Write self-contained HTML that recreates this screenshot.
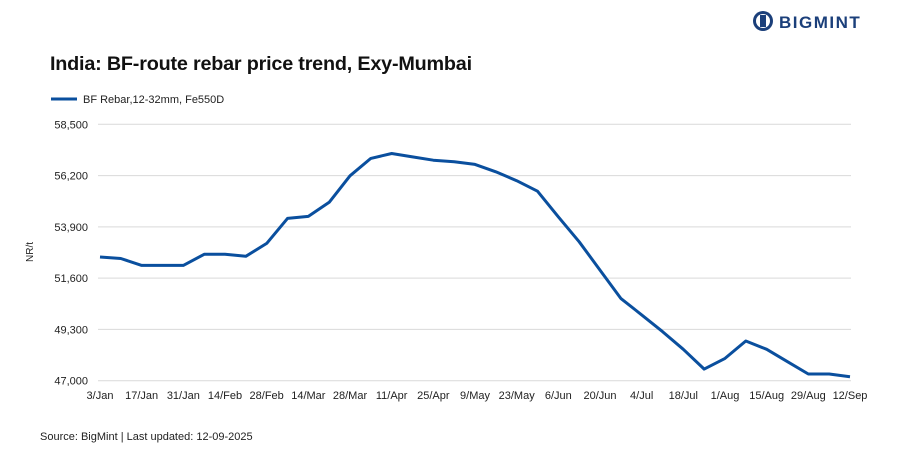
<!DOCTYPE html>
<html><head><meta charset="utf-8"><style>
body{margin:0;background:#fff;font-family:"Liberation Sans",sans-serif;}
svg text{font-family:"Liberation Sans",sans-serif;}
</style></head><body>
<svg id="chart" width="907" height="453" viewBox="0 0 907 453">
  <g>
    <circle cx="763" cy="21" r="10" fill="#1b3f7a"/>
    <circle cx="763" cy="21" r="7" fill="#fff"/>
    <rect x="760" y="15" width="6" height="12" fill="#1b3f7a"/>
    <text x="779" y="28" font-size="17" font-weight="bold" fill="#1b3f7a" letter-spacing="1.5">BIGMINT</text>
  </g>
  <text x="50" y="70" font-size="19.8" font-weight="bold" fill="#111" letter-spacing="-0.2">India: BF-route rebar price trend, Exy-Mumbai</text>
  <g>
    <line x1="51" y1="99" x2="77" y2="99" stroke="#0a4f9e" stroke-width="3"/>
    <text x="83" y="103" font-size="11" fill="#222">BF Rebar,12-32mm, Fe550D</text>
  </g>
  <text transform="translate(33,252) rotate(-90)" text-anchor="middle" font-size="10" fill="#222">NR/t</text>
  <g id="grid"></g><g id="yt"></g><g id="xt"></g>
  <path id="line" fill="none" stroke="#0a4f9e" stroke-width="3" stroke-linejoin="round"/>
  <text x="40" y="440" font-size="11" fill="#222">Source: BigMint | Last updated: 12-09-2025</text>
</svg>
<script>
const xLabels=["3/Jan","17/Jan","31/Jan","14/Feb","28/Feb","14/Mar","28/Mar","11/Apr","25/Apr","9/May","23/May","6/Jun","20/Jun","4/Jul","18/Jul","1/Aug","15/Aug","29/Aug","12/Sep"];
const yTicks=[47000,49300,51600,53900,56200,58500];
const prices=[52550,52480,52170,52170,52170,52670,52670,52580,53160,54280,54370,55000,56190,56970,57190,57040,56890,56820,56700,56370,55970,55500,54350,53230,51960,50690,49950,49200,48410,47520,48000,48780,48410,47850,47300,47300,47180];
const ns="http://www.w3.org/2000/svg";
const x0=100,x1=850,yMin=47000,yMax=58500,py0=380.7,py1=124.3;
const xs=i=>x0+(x1-x0)*i/(prices.length-1);
const ys=v=>py0-(v-yMin)/(yMax-yMin)*(py0-py1);
const g=document.getElementById('grid'),yt=document.getElementById('yt'),xt=document.getElementById('xt');
yTicks.forEach(v=>{
  const l=document.createElementNS(ns,'line');
  
  
  l.setAttribute('x1',98);l.setAttribute('x2',851);l.setAttribute('y1',ys(v));l.setAttribute('y2',ys(v));
  l.setAttribute('stroke','#d9d9d9');l.setAttribute('stroke-width','1');g.appendChild(l);
  const t=document.createElementNS(ns,'text');
  
  
  t.setAttribute('x',88);t.setAttribute('y',ys(v)+4);t.setAttribute('text-anchor','end');t.setAttribute('font-size','11');t.setAttribute('fill','#222');
  t.textContent=v.toLocaleString('en-US');yt.appendChild(t);
});
xLabels.forEach((s,i)=>{
  const t=document.createElementNS(ns,'text');
  
  
  t.setAttribute('x',xs(i*2));t.setAttribute('y',399);t.setAttribute('text-anchor','middle');t.setAttribute('font-size','11');t.setAttribute('fill','#222');
  t.textContent=s;xt.appendChild(t);
});
document.getElementById('line').setAttribute('d',prices.map((v,i)=>(i?'L':'M')+xs(i).toFixed(1)+','+ys(v).toFixed(1)).join(''));
</script>
</body></html>
